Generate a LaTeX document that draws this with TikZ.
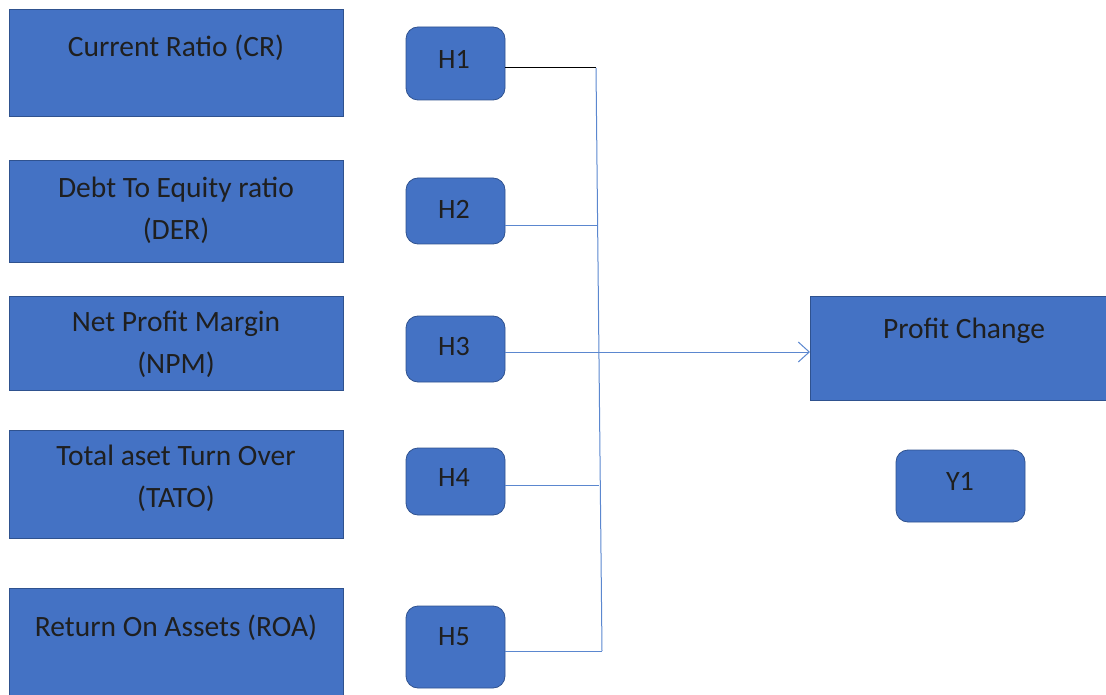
\documentclass[tikz,border=0pt]{standalone}
\usepackage{fontspec}
\setmainfont{Carlito}
\usetikzlibrary{arrows.meta}
\definecolor{boxblue}{HTML}{4472C4}
\definecolor{boxedge}{HTML}{2F528F}
\definecolor{linkblue}{HTML}{5B87CF}
\begin{document}
\begin{tikzpicture}[x=1pt,y=-1pt,
  bigbox/.style={draw=boxedge,line width=0.8pt,fill=boxblue,minimum width=#1,inner sep=0pt,outer sep=0pt,anchor=north west},
  hbox/.style={draw=boxedge,line width=0.8pt,fill=boxblue,rounded corners=12pt,inner sep=0pt,outer sep=0pt},
  txt/.style={font=\fontsize{29.5}{42}\selectfont,align=center,text=black!88,inner sep=0pt},
  htxt/.style={font=\fontsize{28}{30}\selectfont,text=black!88,inner sep=0pt},
  link/.style={draw=linkblue,line width=1pt},
]
\useasboundingbox (0,0) rectangle (1106,695);
% left boxes
\node[bigbox=334pt,minimum height=107pt] (b1) at (9,9) {};
\node[bigbox=334pt,minimum height=102pt] (b2) at (9,160) {};
\node[bigbox=334pt,minimum height=94pt] (b3) at (9,296) {};
\node[bigbox=334pt,minimum height=108pt] (b4) at (9,430) {};
\node[bigbox=334pt,minimum height=110pt] (b5) at (9,588) {};
\node[txt] (t1) at (176,48) {Current Ratio (CR)};
\node[txt] (t2) at (176,210) {Debt To Equity ratio\\(DER)};
\node[txt] (t3) at (176,344) {Net Profit Margin\\(NPM)};
\node[txt] (t4) at (176,478) {Total aset Turn Over\\(TATO)};
\node[txt] (t5) at (176,628) {Return On Assets (ROA)};
% H boxes
\node[hbox,minimum width=99pt,minimum height=73pt] (H1) at (455.5,63.5) {};
\node[hbox,minimum width=99pt,minimum height=66pt] (H2) at (455.5,211) {};
\node[hbox,minimum width=99pt,minimum height=66pt] (H3) at (455.5,349) {};
\node[hbox,minimum width=99pt,minimum height=67pt] (H4) at (455.5,481.5) {};
\node[hbox,minimum width=99pt,minimum height=82pt] (H5) at (455.5,647) {};
\node[htxt] (h1) at (454,59) {H1};
\node[htxt] (h2) at (454,209) {H2};
\node[htxt] (h3) at (454,347) {H3};
\node[htxt] (h4) at (454,478) {H4};
\node[htxt] (h5) at (454,637) {H5};
% right
\node[bigbox=300pt,minimum height=104pt] (pc) at (810,296) {};
\node[txt] (tpc) at (964,331) {Profit Change};
\node[hbox,minimum width=129pt,minimum height=72pt] (Y1) at (960.5,486) {};
\node[htxt] (y1) at (960,481) {Y1};
% connectors
\coordinate (j1) at (596,68);
\coordinate (j2) at (597,226);
\coordinate (j3) at (598,352);
\coordinate (j4) at (599,485);
\coordinate (j5) at (602,651);
\draw[link] (j1) -- (j5);
\draw[line width=1pt,black] (H1.east |- j1) -- (j1);
\draw[link] (H2.east |- j2) -- (j2);
\draw[link] (H3.east |- j3) -- (j3);
\draw[link] (H4.east |- j4) -- (j4);
\draw[link] (H5.east |- j5) -- (j5);
\draw[link,-{Straight Barb[length=11pt,width=20pt,line width=1pt]}] (j3) -- (pc.west |- j3);
\end{tikzpicture}
\end{document}
